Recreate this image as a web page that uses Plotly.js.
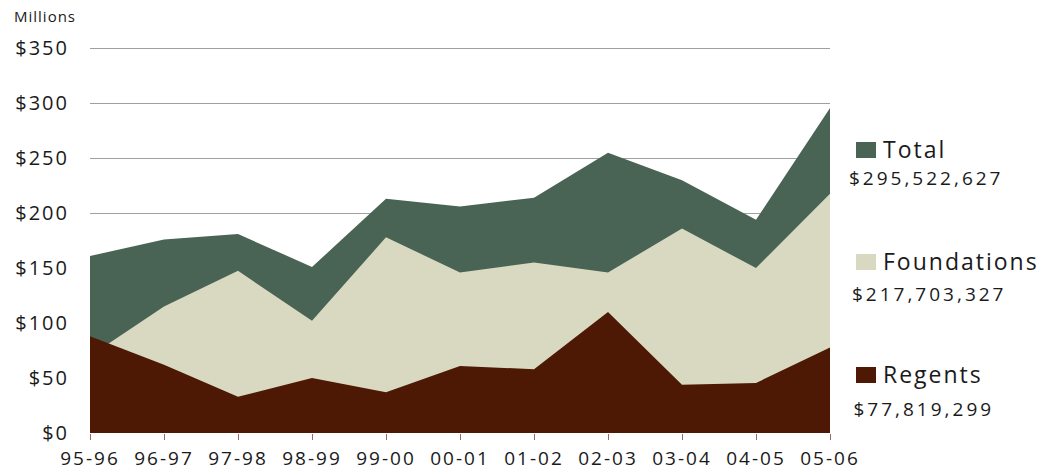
<!DOCTYPE html>
<html>
<head>
<meta charset="utf-8">
<script src="https://cdn.plot.ly/plotly-3.0.1.min.js"></script>
<style>
  html, body { margin: 0; padding: 0; background: #fff; }
  #chart { width: 1042px; height: 475px; }
  .ytick text { letter-spacing: 2px; }
  .xtick text { letter-spacing: 2px; }
  .annotation[data-index="0"] text, .annotation[data-index="2"] text, .annotation[data-index="4"] text { letter-spacing: 2px; }
  .annotation[data-index="1"] text, .annotation[data-index="3"] text, .annotation[data-index="5"] text { letter-spacing: 3px; }
  .annotation[data-index="6"] text { letter-spacing: 1px; }
</style>
</head>
<body>
<div id="chart"></div>
<script>
// ---- data ----
const years = ["95-96","96-97","97-98","98-99","99-00","00-01","01-02","02-03","03-04","04-05","05-06"];
const totalValues       = [161, 176, 181, 151, 213, 206, 214, 255, 230, 194, 295.5];
const foundationsValues = [70, 115, 147.5, 102, 178, 146, 155, 146, 186, 150, 217.7];
const regentsValues     = [88, 62, 33, 50, 37, 61, 58, 110, 44, 45.5, 77.8];
const seriesNames  = ["Total", "Foundations", "Regents"];
const seriesTotals = ["$295,522,627", "$217,703,327", "$77,819,299"];
const yTickVals = [0, 50, 100, 150, 200, 250, 300, 350];
const yTickText = ["$0", "$50", "$100", "$150", "$200", "$250", "$300", "$350"];

// ---- styling ----
const colors = ["#496455", "#d9d9c1", "#4d1804"];
const FONT = "Open Sans, Noto Sans, DejaVu Sans, sans-serif";

// plot area in pixels (y range extended slightly so the $350 gridline shows)
const YMAX = 352;
const L = 90, R = 830, B = 433;
const T = Math.round(B - (B - 48) * YMAX / 350);
const px = v => (v - L) / (R - L);
const py = v => (B - v) / (B - T);

const allSeries = [totalValues, foundationsValues, regentsValues];
const traces = allSeries.map((vals, i) => ({
  type: "scatter",
  x: years,
  y: vals,
  mode: "none",
  fill: "tozeroy",
  fillcolor: colors[i],
  name: seriesNames[i],
  hoverinfo: "x+y+name"
}));

// legend positions (pixels)
const legendBoxY = [[142, 158], [254, 270], [367, 383]];
const legendNameY = [149, 261, 374];
const legendValY = [178, 294, 409];
const legendValX = [848, 852, 853];

const shapes = legendBoxY.map((yy, i) => ({
  type: "rect", xref: "paper", yref: "paper",
  x0: px(856), x1: px(876), y0: py(yy[1]), y1: py(yy[0]),
  fillcolor: colors[i], line: { width: 0 }
}));

const annotations = [];
seriesNames.forEach((n, i) => {
  annotations.push({
    xref: "paper", yref: "paper", x: px(882), y: py(legendNameY[i]),
    xanchor: "left", yanchor: "middle", showarrow: false, text: n,
    xshift: (n.length - 1) * 2 / 2,
    font: { family: FONT, size: 23, color: "#1a1a1a" }
  });
  annotations.push({
    xref: "paper", yref: "paper", x: px(legendValX[i]), y: py(legendValY[i]),
    xanchor: "left", yanchor: "middle", showarrow: false, text: seriesTotals[i],
    xshift: (seriesTotals[i].length - 1) * 3 / 2,
    font: { family: FONT, size: 19, color: "#1a1a1a" }
  });
});
annotations.push({
  xref: "paper", yref: "paper", x: px(12), y: py(16),
  xanchor: "left", yanchor: "middle", showarrow: false, text: "Millions",
  xshift: 3.5,
  font: { family: FONT, size: 15, color: "#1a1a1a" }
});

const layout = {
  width: 1042, height: 475,
  margin: { l: L, r: 1042 - R, t: T, b: 475 - B, pad: 0 },
  paper_bgcolor: "#fff", plot_bgcolor: "#fff",
  showlegend: false,
  xaxis: {
    type: "category", range: [0, 10],
    showgrid: false, zeroline: false, showline: false,
    ticks: "outside", ticklen: 6, tickwidth: 1, tickcolor: "#9c6a5e",
    tickfont: { family: FONT, size: 19, color: "#1a1a1a" },
    ticklabelstandoff: 2,
    fixedrange: true
  },
  yaxis: {
    range: [0, YMAX], tickvals: yTickVals, ticktext: yTickText,
    showgrid: true, gridcolor: "#a0a0a0", gridwidth: 1,
    zeroline: false, showline: false, ticks: "",
    tickfont: { family: FONT, size: 20, color: "#1a1a1a" },
    ticklabelstandoff: 20,
    fixedrange: true
  },
  shapes: shapes,
  annotations: annotations
};

Plotly.newPlot("chart", traces, layout, { displayModeBar: false, staticPlot: true });
</script>
</body>
</html>
